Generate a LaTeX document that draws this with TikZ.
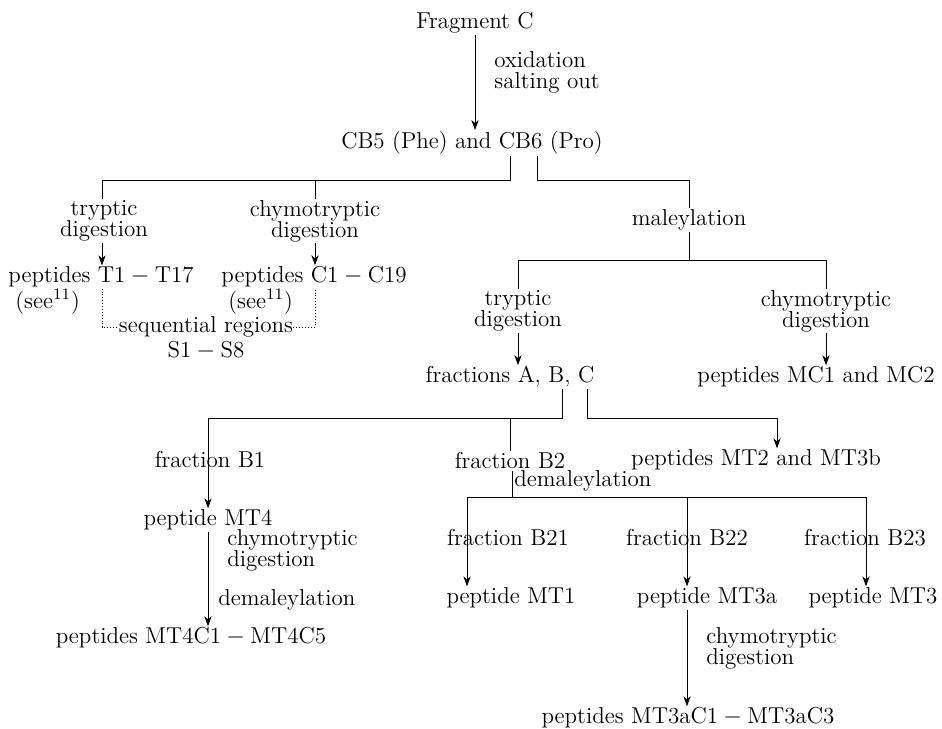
\documentclass[tikz,border=0pt]{standalone}
\usetikzlibrary{arrows.meta}
\begin{document}
\begin{tikzpicture}[x=0.5pt,y=-0.5pt,
    txt/.style={font=\fontsize{11.5}{10.5}\selectfont, inner sep=0.5pt, align=center},
    lbl/.style={txt, anchor=west, align=left},
    flow/.style={line width=0.45pt},
    arr/.style={flow, -{Stealth[length=5pt,width=3.6pt,inset=1.5pt]}},
    dots/.style={line width=0.45pt, densely dotted}]
    \useasboundingbox (0,0) rectangle (942,728);
    % fragment C and CB5/CB6
    \node[txt] (frag) at (475,23) {Fragment C};
    \node[lbl] (ox) at (493,72) {oxidation\\salting out};
    \node[txt] (cb) at (472,143) {CB5 (Phe) and CB6 (Pro)};
    \draw[arr] (frag.south) -- (frag.south |- cb.north);
    % junctions
    \coordinate (hA) at (510,180);
    \coordinate (hB) at (537,180);
    \coordinate (jT) at (102,180);
    \coordinate (jC) at (315,180);
    \coordinate (hM) at (689,260);
    % left branch
    \node[txt] (try1) at (104,221) {tryptic\\digestion};
    \node[txt] (chy1) at (315,221) {chymotryptic\\digestion};
    \node[txt] (pepT) at (101,277) {peptides T1${}-{}$T17};
    \node[lbl, inner sep=0pt] (seeT) at (15,302) {(see$^{11}$)};
    \node[txt] (pepC) at (314,277) {peptides C1${}-{}$C19};
    \node[lbl, inner sep=0pt] (seeC) at (228,302) {(see$^{11}$)};
    \node[txt, inner sep=0pt] (seq) at (206,327) {sequential regions};
    \node[txt, inner sep=0pt] (sreg) at (206,350) {S1${}-{}$S8};
    \draw[flow] (cb.south -| hA) -- (hA) -- (jT) -- (jT |- try1.north);
    \draw[flow] (jC) -- (jC |- chy1.north);
    \draw[arr] (try1.south -| jT) -- (jT |- pepT.north);
    \draw[arr] (chy1.south -| jC) -- (jC |- pepC.north);
    \draw[dots] (pepT.south -| jT) -- (jT |- seq.west) -- (seq.west);
    \draw[dots] (seq.east) -- (jC |- seq.east) -- (pepC.south -| jC);
    % maleylation branch
    \node[txt] (mal) at (689,220) {maleylation};
    \node[txt] (try2) at (518,311) {tryptic\\digestion};
    \node[txt] (chy2) at (826,311) {chymotryptic\\digestion};
    \node[txt] (frac) at (510,377) {fractions A, B, C};
    \node[txt] (mc) at (816,377) {peptides MC1 and MC2};
    \draw[flow] (cb.south -| hB) -- (hB) -- (mal |- hB) -- (mal.north);
    \draw[flow] (mal.south) -- (hM);
    \draw[flow] (try2.north) -- (try2 |- hM) -- (chy2 |- hM) -- (chy2.north);
    \draw[arr] (try2.south) -- (try2.south |- frac.north);
    \draw[arr] (chy2.south) -- (chy2.south |- mc.north);
    % fractions
    \coordinate (fB) at (562,418);
    \coordinate (fC) at (587,418);
    \coordinate (jB1) at (208,418);
    \coordinate (jB2) at (510,418);
    \coordinate (jMT2) at (777,418);
    \node[txt] (b1) at (210,460) {fraction B1};
    \node[txt] (b2) at (510,461) {fraction B2};
    \node[txt] (mt2) at (756,460) {peptides MT2 and MT3b};
    \draw[flow] (frac.south -| fB) -- (fB) -- (jB1);
    \draw[flow] (jB2) -- (b2.north);
    \draw[arr] (frac.south -| fC) -- (fC) -- (jMT2) -- (jMT2 |- mt2.north);
    % fraction B1 chain
    \node[txt] (mt4) at (208,520) {peptide MT4};
    \node[lbl] (chy3) at (226,550) {chymotryptic\\digestion};
    \node[lbl] (dem1) at (217,600) {demaleylation};
    \node[txt] (mt4c) at (191,638) {peptides MT4C1${}-{}$MT4C5};
    \draw[arr] (jB1) -- (jB1 |- mt4.north);
    \draw[arr] (mt4.south) -- (mt4.south |- mt4c.north);
    % fraction B2 chain
    \coordinate (hD) at (512,497);
    \coordinate (jB21) at (467,497);
    \coordinate (jB22) at (687,497);
    \coordinate (jB23) at (866,497);
    \node[lbl] (dem2) at (513,481) {demaleylation};
    \node[txt] (b21) at (508,538) {fraction B21};
    \node[txt] (b22) at (687,538) {fraction B22};
    \node[txt] (b23) at (865,538) {fraction B23};
    \node[txt] (mt1) at (511,598) {peptide MT1};
    \node[txt] (mt3a) at (707,598) {peptide MT3a};
    \node[txt] (mt3) at (873,598) {peptide MT3};
    \node[lbl] (chy4) at (705,648) {chymotryptic\\digestion};
    \node[txt] (mt3ac) at (688,718) {peptides MT3aC1${}-{}$MT3aC3};
    \draw[flow] (b2.south -| hD) -- (hD);
    \draw[flow] (jB21) -- (jB23);
    \draw[arr] (jB21) -- (jB21 |- mt1.north);
    \draw[arr] (jB22) -- (jB22 |- mt3a.north);
    \draw[arr] (jB23) -- (jB23 |- mt3.north);
    \draw[arr] (mt3a.south -| jB22) -- (jB22 |- mt3ac.north);
\end{tikzpicture}
\end{document}
